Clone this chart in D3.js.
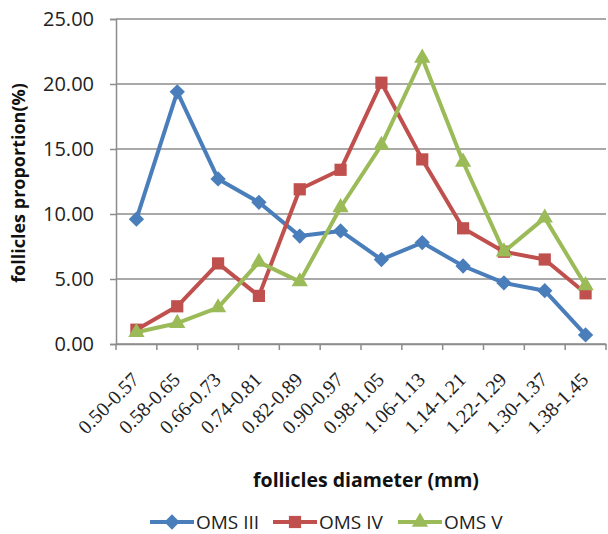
<!DOCTYPE html>
<html><head><meta charset="utf-8">
<script src="https://cdn.jsdelivr.net/npm/d3@7"></script>
<style>body{margin:0;background:#fff}svg{display:block}</style>
</head><body>
<svg id="c" width="608" height="534"></svg>
<script>
const categories = ["0.50-0.57","0.58-0.65","0.66-0.73","0.74-0.81","0.82-0.89","0.90-0.97","0.98-1.05","1.06-1.13","1.14-1.21","1.22-1.29","1.30-1.37","1.38-1.45"];
const omsIII = [9.6, 19.4, 12.7, 10.9, 8.3, 8.7, 6.5, 7.8, 6.0, 4.7, 4.1, 0.7];
const omsIV  = [1.1, 2.9, 6.2, 3.7, 11.9, 13.4, 20.1, 14.2, 8.9, 7.1, 6.5, 3.9];
const omsV   = [0.9, 1.6, 2.8, 6.3, 4.8, 10.5, 15.3, 22.0, 14.0, 7.1, 9.7, 4.5];
const yTicks = [0, 5, 10, 15, 20, 25];
const seriesNames = ["OMS III", "OMS IV", "OMS V"];

const series = [
  {name: seriesNames[0], values: omsIII, color: "#4a7ebb", symbol: d3.symbolDiamond2, size: 150},
  {name: seriesNames[1], values: omsIV,  color: "#c0504d", symbol: d3.symbolSquare2, size: 190},
  {name: seriesNames[2], values: omsV,   color: "#9bbb59", symbol: d3.symbolTriangle2, size: 190}
];

const svg = d3.select("#c");
const m = {left: 116, right: 606, top: 19, bottom: 344};
const x = d3.scaleBand().domain(categories).range([m.left, m.right]);
const y = d3.scaleLinear().domain([0, 25]).range([m.bottom, m.top]);

// gridlines
svg.append("g").selectAll("line").data(yTicks).join("line")
  .attr("x1", m.left).attr("x2", m.right)
  .attr("y1", d => y(d)).attr("y2", d => y(d))
  .attr("stroke", "#8c8c8c").attr("stroke-width", 1.5);

// y axis
const ya = svg.append("g").attr("transform", `translate(${m.left},0)`)
  .call(d3.axisLeft(y).tickValues(yTicks).tickFormat(d3.format(".2f")).tickSize(6).tickPadding(16));
ya.select(".domain").attr("stroke", "#8c8c8c").attr("stroke-width", 1.5);
ya.selectAll(".tick line").attr("stroke", "#8c8c8c").attr("stroke-width", 1.5);
ya.selectAll("text").attr("font-family", "'Open Sans', sans-serif").attr("font-size", 20).attr("fill", "#222");

// x axis
const xa = svg.append("g").attr("transform", `translate(0,${m.bottom})`)
  .call(d3.axisBottom(x).tickSize(0).tickSizeOuter(0));
xa.select(".domain").attr("stroke", "#8c8c8c").attr("stroke-width", 1.5);
xa.selectAll(".tick line").remove();
// boundary ticks
svg.append("g").selectAll("line").data(d3.range(categories.length + 1)).join("line")
  .attr("x1", i => m.left + i * x.step()).attr("x2", i => m.left + i * x.step())
  .attr("y1", m.bottom).attr("y2", m.bottom + 6)
  .attr("stroke", "#8c8c8c").attr("stroke-width", 1.5);
xa.selectAll(".tick text")
  .attr("font-family", "'Liberation Serif', serif").attr("font-size", 20).attr("fill", "#222")
  .attr("text-anchor", "end").attr("dy", null).attr("y", 0)
  .attr("transform", "translate(4,37) rotate(-45)");

// axis titles
svg.append("text").attr("transform", `translate(25,183) rotate(-90)`)
  .attr("text-anchor", "middle").attr("font-family", "'Open Sans', sans-serif")
  .attr("font-weight", "bold").attr("font-size", 18).attr("fill", "#111")
  .text("follicles proportion(%)");
svg.append("text").attr("x", 366).attr("y", 487)
  .attr("text-anchor", "middle").attr("font-family", "'Open Sans', sans-serif")
  .attr("font-weight", "bold").attr("font-size", 19.5).attr("fill", "#111")
  .text("follicles diameter (mm)");

// lines and markers
const line = d3.line().x((d, i) => x(categories[i]) + x.bandwidth() / 2).y(d => y(d));
series.forEach(s => {
  svg.append("path").datum(s.values).attr("d", line)
    .attr("fill", "none").attr("stroke", s.color).attr("stroke-width", 4).attr("stroke-linejoin", "round");
  svg.append("g").selectAll("path").data(s.values).join("path")
    .attr("d", d3.symbol().type(s.symbol).size(s.size))
    .attr("transform", (d, i) => `translate(${x(categories[i]) + x.bandwidth() / 2},${y(d)})`)
    .attr("fill", s.color);
});

// legend
const legX = [150, 273, 398];
series.forEach((s, i) => {
  const g = svg.append("g").attr("transform", `translate(${legX[i]},522)`);
  g.append("line").attr("x1", 0).attr("x2", 44).attr("stroke", s.color).attr("stroke-width", 4);
  g.append("path").attr("d", d3.symbol().type(s.symbol).size(s.size)).attr("transform", "translate(22,0)").attr("fill", s.color);
  g.append("text").attr("x", 46).attr("y", 7).attr("font-family", "'Open Sans', sans-serif")
    .attr("font-size", 19).attr("fill", "#222").text(s.name);
});
</script>
</body></html>
